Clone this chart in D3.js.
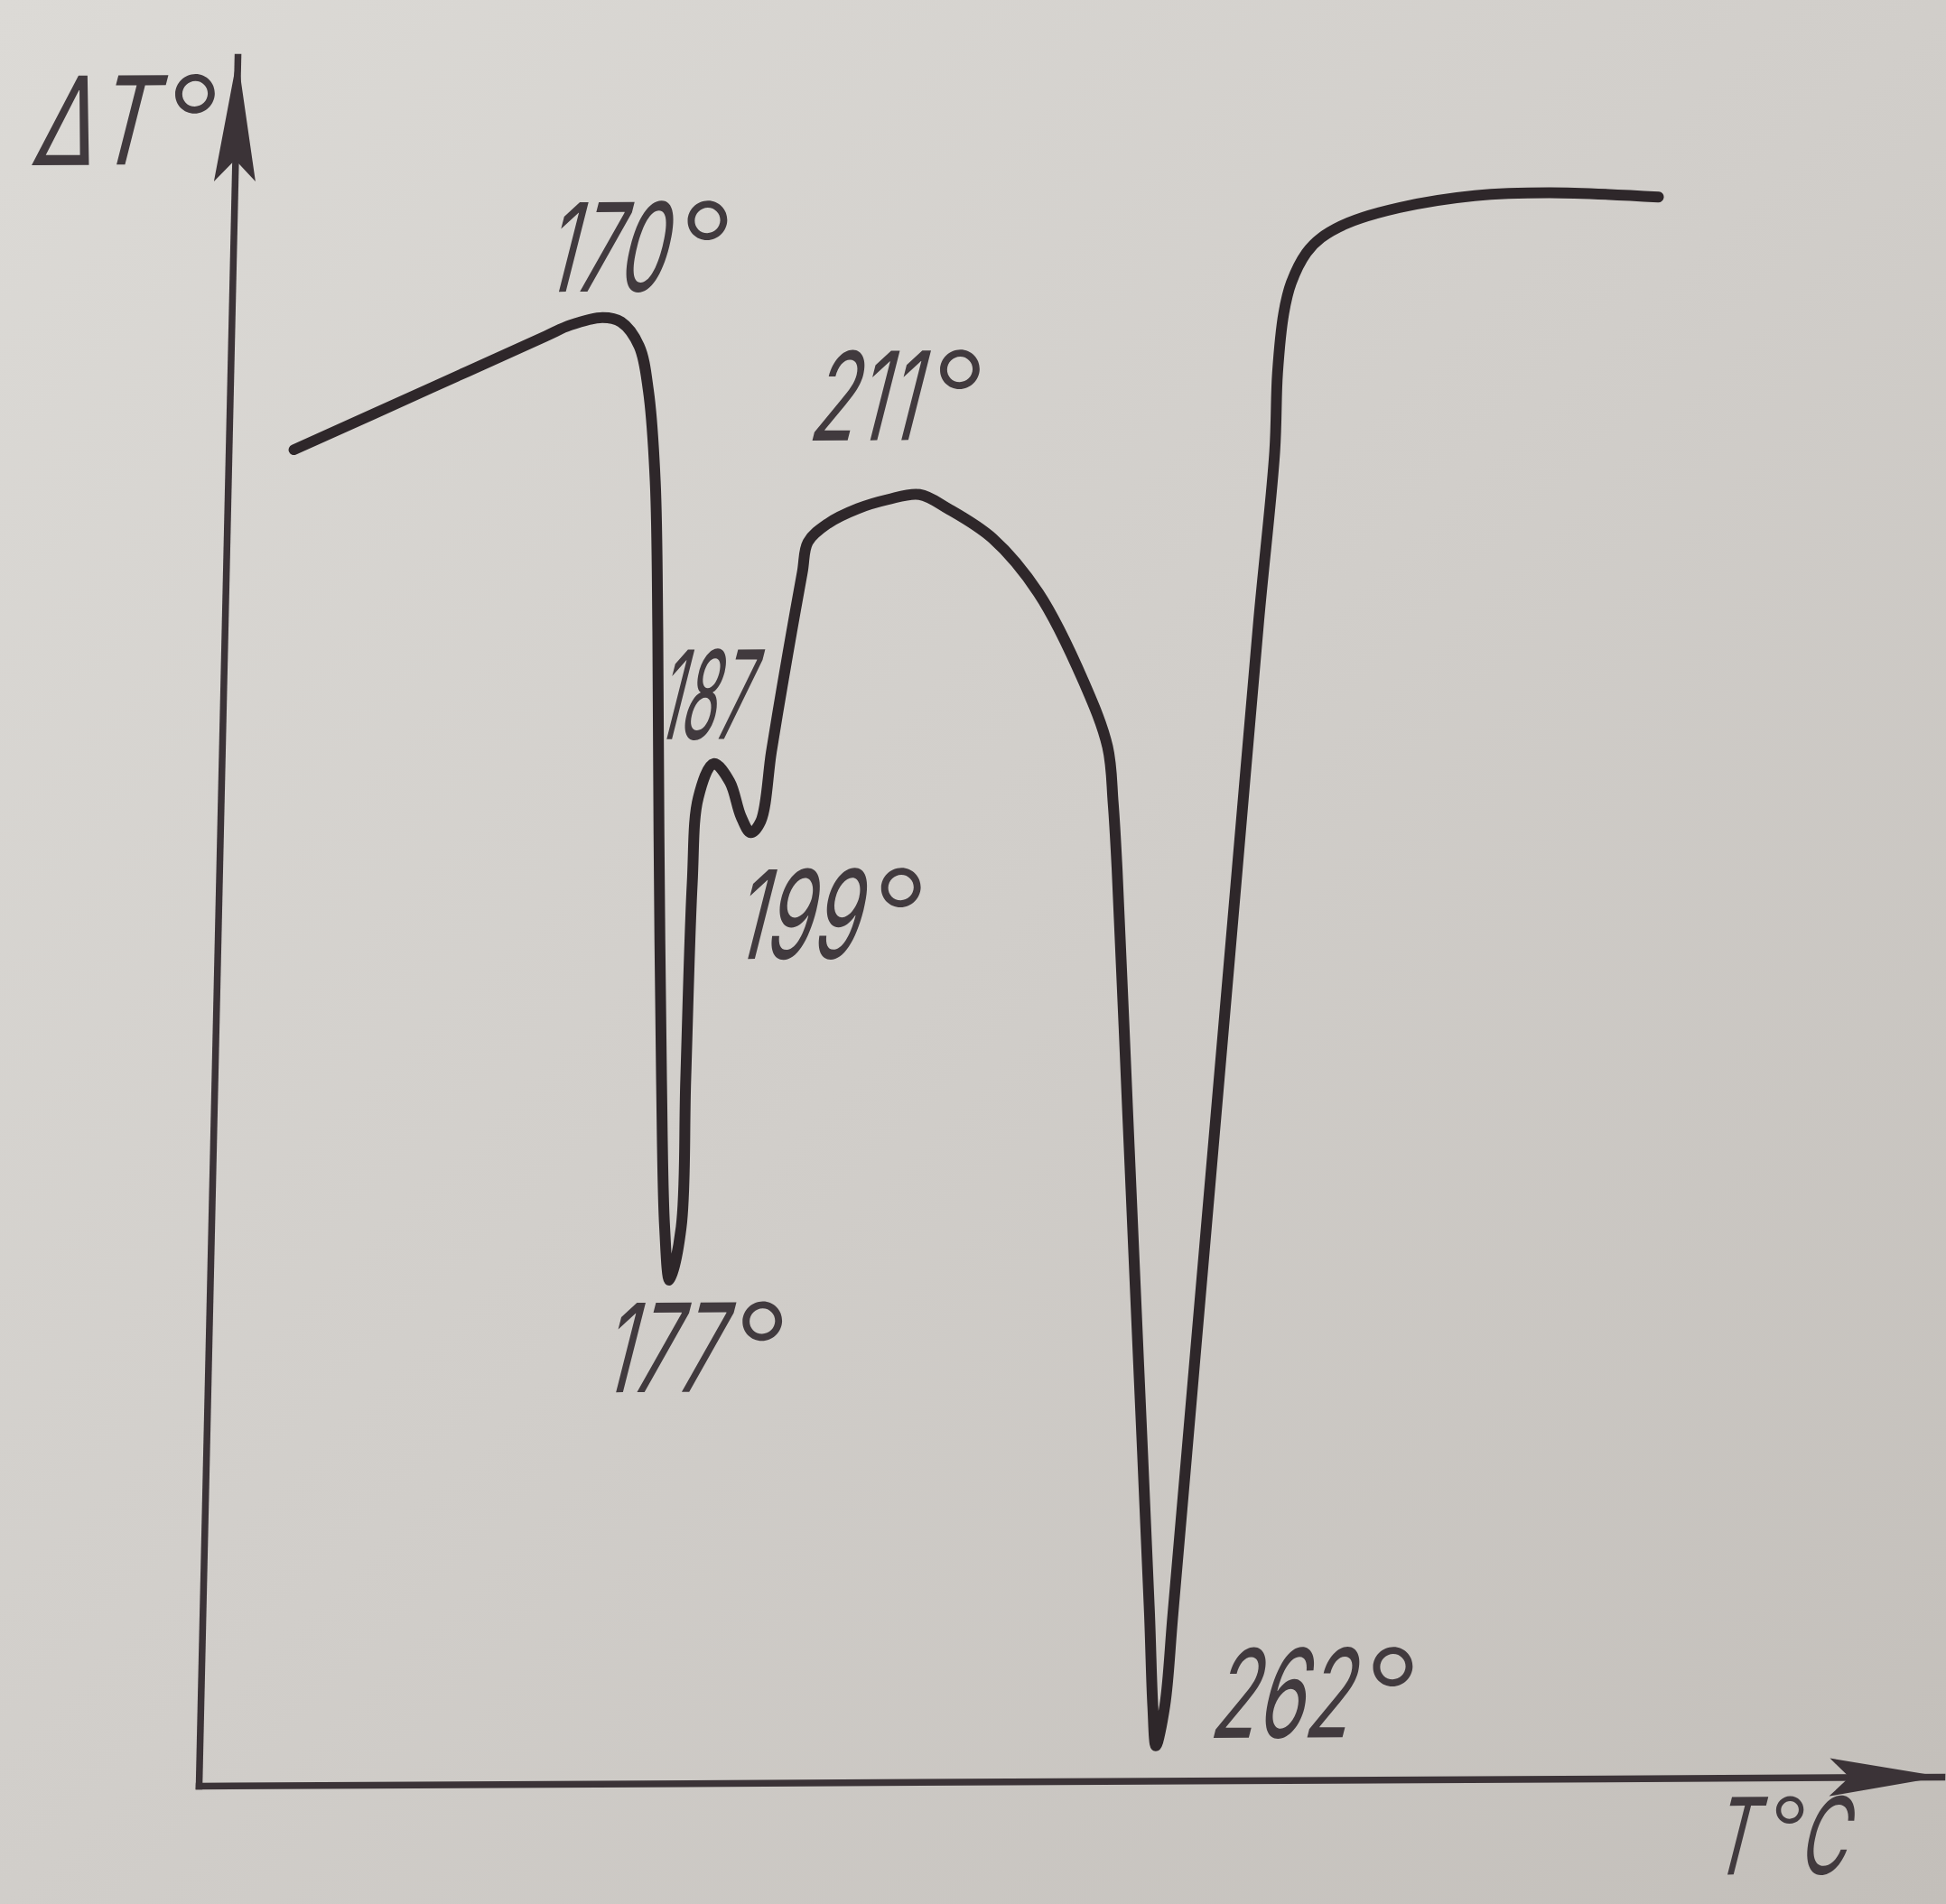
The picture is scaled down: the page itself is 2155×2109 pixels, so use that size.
<!DOCTYPE html>
<html>
<head>
<meta charset="utf-8">
<script src="https://cdn.jsdelivr.net/npm/d3@7"></script>
<style>
  html, body { margin: 0; padding: 0; background: #d2cfcb; }
  svg { display: block; }
</style>
</head>
<body>
<div id="chart"></div>
<script>
// ---- data (relative units) ----
// position along the temperature axis (0..100 of axis length)
const curveX = [3.75, 11.6, 18.06, 19.44, 21.28, 22.35, 23.42, 24.01, 24.52, 24.86, 25.19, 25.65, 26.02, 26.37, 26.97, 27.04, 27.16, 27.40, 28.23, 29.18, 29.87, 30.46, 31.01, 31.53, 32.02, 32.54, 33.08, 33.36, 34.47, 36.18, 37.90, 39.70, 41.36, 43.96, 46.65, 49.35, 50.82, 51.21, 51.52, 52.46, 53.40, 54.34, 54.65, 54.88, 55.34, 55.69, 56.60, 57.51, 58.42, 59.33, 60.03, 60.09, 60.37, 60.76, 61.59, 62.42, 63.96, 66.87, 71.18, 75.49, 81.72];
// differential temperature ΔT (0..100 of axis height)
const curveDT = [77.26, 80.82, 83.76, 84.38, 84.81, 84.55, 83.15, 80.56, 75.31, 66.63, 54.86, 40.72, 32.17, 29.10, 32.17, 40.71, 52.05, 57.02, 58.97, 57.92, 55.91, 54.97, 55.62, 59.63, 63.08, 66.56, 70.03, 71.76, 72.82, 73.68, 74.20, 74.48, 73.65, 71.91, 68.75, 63.63, 59.82, 56.59, 52.78, 38.42, 24.06, 9.70, 4.32, 2.02, 4.35, 9.70, 24.05, 38.39, 52.74, 67.09, 76.87, 81.39, 84.86, 86.61, 88.34, 89.21, 90.07, 90.93, 91.60, 91.75, 91.46];

// peak annotations
const peakLabels = ["170°", "187", "199°", "177°", "211°", "262°"];
const peakLabelX = [17.75, 24.75, 29.45, 22.45, 33.15, 57.85];
const peakLabelY = [86.32, 60.40, 47.67, 22.64, 77.63, 2.46];

// axis titles
const axisTitles = ["ΔT°", "T°C"];
const axisTitleX = [-11.80, 86.80];
const axisTitleY = [93.80, -5.60];

// ---- drawing ----
const W = 2155, H = 2109;
const svg = d3.select("#chart").append("svg").attr("width", W).attr("height", H);

const defs = svg.append("defs");
const grad = defs.append("linearGradient").attr("id", "paper")
  .attr("x1", "0").attr("y1", "0").attr("x2", "1").attr("y2", "1");
grad.append("stop").attr("offset", "0").attr("stop-color", "#dcdad6");
grad.append("stop").attr("offset", "0.5").attr("stop-color", "#d1ceca");
grad.append("stop").attr("offset", "1").attr("stop-color", "#c3bfba");
svg.append("rect").attr("width", W).attr("height", H).attr("fill", "url(#paper)");

const xs = d3.scaleLinear().domain([0, 100]).range([220, 2150]);
const ys = d3.scaleLinear().domain([0, 100]).range([1978, 63]);

// slight perspective of the photographed page
const g = svg.append("g")
  .attr("transform", "matrix(1,-0.0052,-0.02245,1,44.41,1.144)");

const axisColor = "#3b3337";
const xAxis = g.append("g").attr("transform", `translate(0,${ys(0)})`)
  .call(d3.axisBottom(xs).tickValues([]).tickSizeOuter(0));
const yAxis = g.append("g").attr("transform", `translate(${xs(0)},0)`)
  .call(d3.axisLeft(ys).tickValues([]).tickSizeOuter(0));
[xAxis, yAxis].forEach(a => a.select(".domain")
  .attr("stroke", axisColor).attr("stroke-width", 7.5).attr("stroke-linecap", "square"));

// arrowheads
g.append("path")
  .attr("transform", `translate(${xs(100)},${ys(0)})`)
  .attr("d", "M0,0 L-124,-21 L-102,0 L-124,21 Z")
  .attr("fill", axisColor);
g.append("path")
  .attr("transform", `translate(${xs(0)},${ys(100)})`)
  .attr("d", "M0,0 L-23,138 L0,114 L23,138 Z")
  .attr("fill", axisColor);

// DTA curve
const pts = curveX.map((x, i) => [x, curveDT[i]]);
const line = d3.line().x(d => xs(d[0])).y(d => ys(d[1])).curve(d3.curveCatmullRom.alpha(0.5));
g.append("path").attr("d", line(pts))
  .attr("fill", "none").attr("stroke", "#2e272a").attr("stroke-width", 12)
  .attr("stroke-linejoin", "round").attr("stroke-linecap", "round");

// labels in a narrow italic drafting style
const baseFS = { "T°C": 118 };
const degFS = { "T°C": 96 };
const condense = { "187": 0.47, "ΔT": 0.74 };
function drawLabel(text, x, y) {
  const gg = g.append("g").attr("transform", `translate(${xs(x)},${ys(y)}) skewX(-13)`);
  const FS = baseFS[text] || 136, DFS = degFS[text] || 138;
  let cursor = 0;
  text.split(/(°)/).filter(s => s.length).forEach(run => {
    const isDeg = run === "°";
    const sx = isDeg ? 1 : (condense[text] || condense[run] || 0.62);
    const t = gg.append("text")
      .attr("font-family", "Inter, Roboto, 'DejaVu Sans', sans-serif")
      .attr("font-size", isDeg ? DFS : FS)
      .attr("font-weight", isDeg ? 300 : 400)
      .attr("fill", "#413a3e")
      .style("font-variant-numeric", "proportional-nums")
      .text(run);
    if (isDeg) {
      const dx = cursor + FS * 0.125;
      t.attr("transform", `translate(${dx},${-(FS - DFS) * 0.73}) skewX(13)`);
      cursor = dx + t.node().getComputedTextLength() - FS * 0.08;
    } else {
      t.attr("transform", `translate(${cursor},0) scale(${sx},1)`);
      cursor += t.node().getComputedTextLength() * sx;
    }
  });
}
peakLabels.forEach((t, i) => drawLabel(t, peakLabelX[i], peakLabelY[i]));
axisTitles.forEach((t, i) => drawLabel(t, axisTitleX[i], axisTitleY[i]));
</script>
</body>
</html>
